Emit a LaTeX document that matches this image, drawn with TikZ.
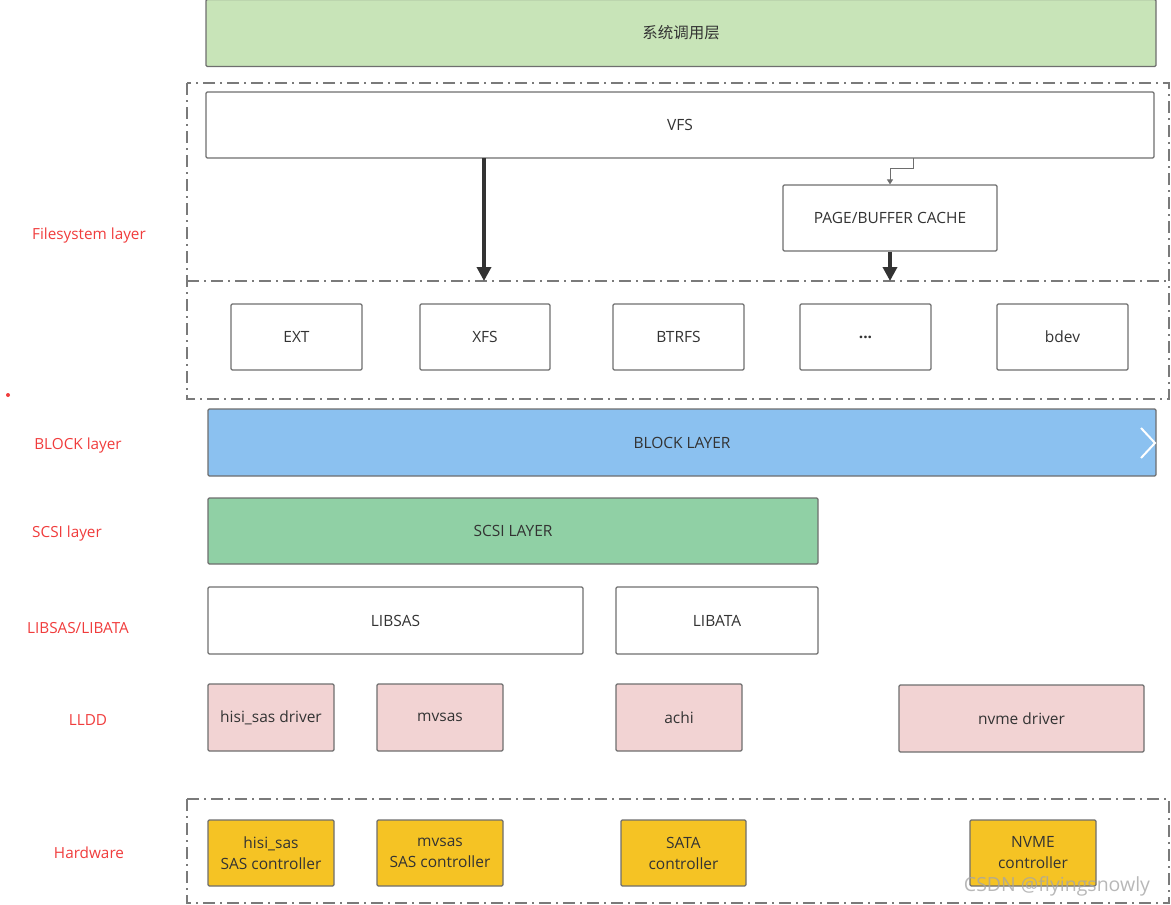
\documentclass[tikz,border=0pt]{standalone}
\usepackage{fontspec}
\setmainfont{Open Sans}
\newfontfamily\cjk{Noto Sans CJK SC}
\usetikzlibrary{arrows.meta}
\definecolor{edge}{HTML}{6E6E6E}
\definecolor{txt}{HTML}{333333}
\definecolor{sysg}{HTML}{C8E4B8}
\definecolor{blockb}{HTML}{8BC1F0}
\definecolor{scsig}{HTML}{90D0A5}
\definecolor{pinkd}{HTML}{F2D3D3}
\definecolor{yelh}{HTML}{F5C324}
\definecolor{redl}{HTML}{F03C3C}
\definecolor{dashg}{HTML}{7A7A7A}
\tikzset{
  box/.style={draw=edge, line width=1.2pt, rounded corners=1.2pt, text=txt,
    font=\fontsize{15.5}{21}\selectfont, align=center, inner sep=0pt},
  lbl/.style={text=redl, font=\fontsize{15.3}{18}\selectfont},
  dashbox/.style={draw=dashg, line width=1.2pt,
    dash pattern=on 12pt off 5pt on 2pt off 5pt},
  thick arrow/.style={draw=black!80, line width=3.5pt,
    -{Triangle[length=14pt,width=14pt]}},
}
\begin{document}
\begin{tikzpicture}[x=1pt,y=-1pt]
\useasboundingbox (0,0) rectangle (1171,905);
% dashed group frames
\draw[dashbox] (187,83) rectangle (1169,399);
\draw[dashbox] (187,281) -- (1169,281);
\draw[dashbox] (187,799) rectangle (1169,903);

% system call layer
\node[box, fill=sysg, minimum width=950pt, minimum height=67pt] (sys) at (681,33) {\cjk 系统调用层};
% filesystem layer
\node[box, fill=white, minimum width=948pt, minimum height=66pt] (vfs) at (680,125) {VFS};
\node[box, fill=white, minimum width=214pt, minimum height=66pt] (page) at (890,218) {PAGE/BUFFER CACHE};
\node[box, minimum width=131pt, minimum height=66pt] (ext) at (296.5,337) {EXT};
\node[box, minimum width=130pt, minimum height=66pt] (xfs) at (485,337) {XFS};
\node[box, minimum width=131pt, minimum height=66pt] (btrfs) at (678.5,337) {BTRFS};
\node[box, minimum width=131pt, minimum height=66pt] (dots) at (865.5,337) {\textbf{...}};
\node[box, minimum width=131pt, minimum height=66pt] (bdev) at (1062.5,337) {bdev};

\coordinate (vfsout) at (484,158);
\coordinate (fsline1) at (484,281);
\coordinate (fsline2) at (890,281);
\coordinate (vfstap) at (913,158);
\draw[thick arrow] (vfsout) -- (fsline1);
\draw[thick arrow] (page.south) -- (fsline2);
\draw[draw=edge, line width=1pt, -{Triangle[length=5pt,width=6pt]}]
  (vfstap) -- (913,168) -- (890,168) -- (page.north);

% block layer
\node[box, fill=blockb, minimum width=948pt, minimum height=67pt] (block) at (682,442.5) {BLOCK LAYER};
\draw[white, line width=2pt] (1141,428) -- (1155,443) -- (1141,458);
% scsi layer
\node[box, fill=scsig, minimum width=610pt, minimum height=66pt] (scsi) at (513,531) {SCSI LAYER};
% libsas / libata
\node[box, minimum width=375pt, minimum height=67pt] (libsas) at (395.5,620.5) {LIBSAS};
\node[box, minimum width=202pt, minimum height=67pt] (libata) at (717,620.5) {LIBATA};
% LLDD
\node[box, fill=pinkd, minimum width=126pt, minimum height=67pt] (hisidrv) at (271,717.5) {hisi\_sas driver};
\node[box, fill=pinkd, minimum width=126pt, minimum height=67pt] (mvsasdrv) at (440,717.5) {mvsas};
\node[box, fill=pinkd, minimum width=126pt, minimum height=67pt] (achi) at (679,717.5) {achi};
\node[box, fill=pinkd, minimum width=245pt, minimum height=67pt] (nvmedrv) at (1021.5,718.5) {nvme driver};
% hardware
\node[box, fill=yelh, minimum width=126pt, minimum height=66pt] (hisihw) at (271,853) {hisi\_sas\\SAS controller};
\node[box, fill=yelh, minimum width=126pt, minimum height=66pt] (mvsashw) at (440,853) {mvsas\\SAS controller};
\node[box, fill=yelh, minimum width=125pt, minimum height=66pt] (satahw) at (683.5,853) {SATA\\controller};
\node[box, fill=yelh, minimum width=126pt, minimum height=66pt] (nvmehw) at (1033,853) {NVME\\controller};

% layer labels
\node[lbl] (l1) at (89,236) {Filesystem layer};
\node[lbl] (l2) at (78,446) {BLOCK layer};
\node[lbl] (l3) at (67,534) {SCSI layer};
\node[lbl] (l4) at (78,628) {LIBSAS/LIBATA};
\node[lbl] (l5) at (88,720) {LLDD};
\node[lbl] (l6) at (89,853) {Hardware};
\fill[redl] (8,395) circle (2pt);

% watermark
\node[text=black!35, opacity=0.8, font=\fontsize{19.5}{22}\selectfont] (wm) at (1057,886) {CSDN @flyingsnowly};
\end{tikzpicture}
\end{document}
